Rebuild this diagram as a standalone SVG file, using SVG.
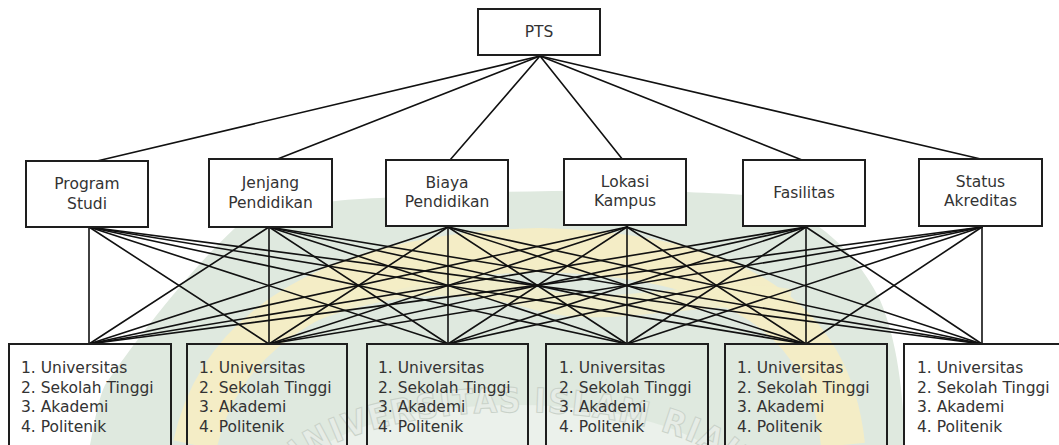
<svg xmlns="http://www.w3.org/2000/svg" width="1059" height="445" viewBox="0 0 1059 445">
  <defs>
    <style>
      .box { fill: #ffffff; stroke: #1e1e1e; stroke-width: 2; }
      .opt { fill: none; stroke: #1e1e1e; stroke-width: 2; }
      .lbl { font-family: "DejaVu Sans", Verdana, sans-serif; font-size: 15.5px; fill: #333333; }
      .mid { text-anchor: middle; }
      .edge { stroke: #111111; stroke-width: 1.6; fill: none; stroke-linecap: round; }
      .wm-text { font-family: "DejaVu Sans Condensed", "DejaVu Sans", sans-serif; font-weight: bold; font-size: 34px; fill: #e6ece6; stroke: #c9d2c9; stroke-width: 1; }
    </style>
    <path id="wmArc" d="M 280 500 A 235 88 0 0 1 750 500"/>
  </defs>

  <rect width="1059" height="445" fill="#ffffff"/>

  <!-- faint emblem behind the lower half -->
  <g id="emblem">
    <path d="M 90 445 C 95 420 98 400 105 385 C 150 320 200 260 235 228 C 280 205 330 200 380 198 C 480 190 650 188 745 195 C 800 205 850 240 880 300 C 897 340 903 390 905 445 Z" fill="#dfe9df"/>
    <path d="M 195 445 C 220 330 330 255 540 250 C 740 255 830 320 843 445" fill="none" stroke="#f4edc6" stroke-width="44"/>
    <path d="M 290 320 C 380 280 460 275 540 300 C 620 320 700 285 790 300" fill="none" stroke="#f4edc6" stroke-width="22" opacity="0.8"/>
    <ellipse cx="515" cy="480" rx="215" ry="75" fill="#ebf1eb"/>
    <text class="wm-text"><textPath href="#wmArc" startOffset="30" textLength="470" lengthAdjust="spacing">UNIVERSITAS ISLAM RIAU</textPath></text>
  </g>

  <!-- connectors -->
  <g id="connectors">
    <line class="edge" x1="540" y1="56" x2="97" y2="161"/>
    <line class="edge" x1="540" y1="56" x2="275" y2="160"/>
    <line class="edge" x1="540" y1="56" x2="450" y2="160"/>
    <line class="edge" x1="540" y1="56" x2="623" y2="160"/>
    <line class="edge" x1="540" y1="56" x2="802" y2="160"/>
    <line class="edge" x1="540" y1="56" x2="985" y2="160"/>

    <!-- Program Studi -->
    <line class="edge" x1="89" y1="227" x2="89" y2="344"/>
    <line class="edge" x1="89" y1="227" x2="269" y2="344"/>
    <line class="edge" x1="89" y1="227" x2="448" y2="344"/>
    <line class="edge" x1="89" y1="227" x2="627" y2="344"/>
    <line class="edge" x1="89" y1="227" x2="806" y2="344"/>
    <line class="edge" x1="89" y1="227" x2="982" y2="344"/>
    <!-- Jenjang Pendidikan -->
    <line class="edge" x1="269" y1="227" x2="89" y2="344"/>
    <line class="edge" x1="269" y1="227" x2="269" y2="344"/>
    <line class="edge" x1="269" y1="227" x2="448" y2="344"/>
    <line class="edge" x1="269" y1="227" x2="627" y2="344"/>
    <line class="edge" x1="269" y1="227" x2="806" y2="344"/>
    <line class="edge" x1="269" y1="227" x2="982" y2="344"/>
    <!-- Biaya Pendidikan -->
    <line class="edge" x1="448" y1="227" x2="89" y2="344"/>
    <line class="edge" x1="448" y1="227" x2="269" y2="344"/>
    <line class="edge" x1="448" y1="227" x2="448" y2="344"/>
    <line class="edge" x1="448" y1="227" x2="627" y2="344"/>
    <line class="edge" x1="448" y1="227" x2="806" y2="344"/>
    <line class="edge" x1="448" y1="227" x2="982" y2="344"/>
    <!-- Lokasi Kampus -->
    <line class="edge" x1="627" y1="227" x2="89" y2="344"/>
    <line class="edge" x1="627" y1="227" x2="269" y2="344"/>
    <line class="edge" x1="627" y1="227" x2="448" y2="344"/>
    <line class="edge" x1="627" y1="227" x2="627" y2="344"/>
    <line class="edge" x1="627" y1="227" x2="806" y2="344"/>
    <line class="edge" x1="627" y1="227" x2="982" y2="344"/>
    <!-- Fasilitas -->
    <line class="edge" x1="806" y1="227" x2="89" y2="344"/>
    <line class="edge" x1="806" y1="227" x2="269" y2="344"/>
    <line class="edge" x1="806" y1="227" x2="448" y2="344"/>
    <line class="edge" x1="806" y1="227" x2="627" y2="344"/>
    <line class="edge" x1="806" y1="227" x2="806" y2="344"/>
    <line class="edge" x1="806" y1="227" x2="982" y2="344"/>
    <!-- Status Akreditas -->
    <line class="edge" x1="982" y1="227" x2="89" y2="344"/>
    <line class="edge" x1="982" y1="227" x2="269" y2="344"/>
    <line class="edge" x1="982" y1="227" x2="448" y2="344"/>
    <line class="edge" x1="982" y1="227" x2="627" y2="344"/>
    <line class="edge" x1="982" y1="227" x2="806" y2="344"/>
    <line class="edge" x1="982" y1="227" x2="982" y2="344"/>
  </g>

  <!-- goal -->
  <g id="pts">
    <rect class="box" x="478" y="9" width="122" height="46"/>
    <text class="lbl mid" x="539" y="37">PTS</text>
  </g>

  <!-- criteria -->
  <g id="program-studi">
    <rect class="box" x="26" y="161" width="122" height="66"/>
    <text class="lbl mid" x="87" y="189">Program<tspan x="87" dy="20">Studi</tspan></text>
  </g>
  <g id="jenjang-pendidikan">
    <rect class="box" x="209" y="159" width="123" height="68"/>
    <text class="lbl mid" x="270.5" y="188">Jenjang<tspan x="270.5" dy="20">Pendidikan</tspan></text>
  </g>
  <g id="biaya-pendidikan">
    <rect class="box" x="386" y="160" width="122" height="66"/>
    <text class="lbl mid" x="447" y="188">Biaya<tspan x="447" dy="19">Pendidikan</tspan></text>
  </g>
  <g id="lokasi-kampus">
    <rect class="box" x="564" y="159" width="122" height="66"/>
    <text class="lbl mid" x="625" y="187">Lokasi<tspan x="625" dy="18.5">Kampus</tspan></text>
  </g>
  <g id="fasilitas">
    <rect class="box" x="743" y="160" width="122" height="66"/>
    <text class="lbl mid" x="804" y="198">Fasilitas</text>
  </g>
  <g id="status-akreditas">
    <rect class="box" x="919" y="159" width="123" height="67"/>
    <text class="lbl mid" x="980.5" y="187">Status<tspan x="980.5" dy="19">Akreditas</tspan></text>
  </g>

  <!-- alternatives -->
  <g id="alt-1">
    <rect class="opt" x="9" y="344" width="162" height="120"/>
    <text class="lbl" x="21" y="373">1. Universitas<tspan x="21" dy="19.5">2. Sekolah Tinggi</tspan><tspan x="21" dy="19.5">3. Akademi</tspan><tspan x="21" dy="19.5">4. Politenik</tspan></text>
  </g>
  <g id="alt-2">
    <rect class="opt" x="187" y="344" width="160" height="120"/>
    <text class="lbl" x="199" y="373">1. Universitas<tspan x="199" dy="19.5">2. Sekolah Tinggi</tspan><tspan x="199" dy="19.5">3. Akademi</tspan><tspan x="199" dy="19.5">4. Politenik</tspan></text>
  </g>
  <g id="alt-3">
    <rect class="opt" x="367" y="344" width="161" height="120"/>
    <text class="lbl" x="378" y="373">1. Universitas<tspan x="378" dy="19.5">2. Sekolah Tinggi</tspan><tspan x="378" dy="19.5">3. Akademi</tspan><tspan x="378" dy="19.5">4. Politenik</tspan></text>
  </g>
  <g id="alt-4">
    <rect class="opt" x="546" y="344" width="162" height="120"/>
    <text class="lbl" x="559" y="373">1. Universitas<tspan x="559" dy="19.5">2. Sekolah Tinggi</tspan><tspan x="559" dy="19.5">3. Akademi</tspan><tspan x="559" dy="19.5">4. Politenik</tspan></text>
  </g>
  <g id="alt-5">
    <rect class="opt" x="725" y="344" width="162" height="120"/>
    <text class="lbl" x="737" y="373">1. Universitas<tspan x="737" dy="19.5">2. Sekolah Tinggi</tspan><tspan x="737" dy="19.5">3. Akademi</tspan><tspan x="737" dy="19.5">4. Politenik</tspan></text>
  </g>
  <g id="alt-6">
    <rect class="opt" x="904" y="344" width="170" height="120"/>
    <text class="lbl" x="917" y="373">1. Universitas<tspan x="917" dy="19.5">2. Sekolah Tinggi</tspan><tspan x="917" dy="19.5">3. Akademi</tspan><tspan x="917" dy="19.5">4. Politenik</tspan></text>
  </g>
</svg>
